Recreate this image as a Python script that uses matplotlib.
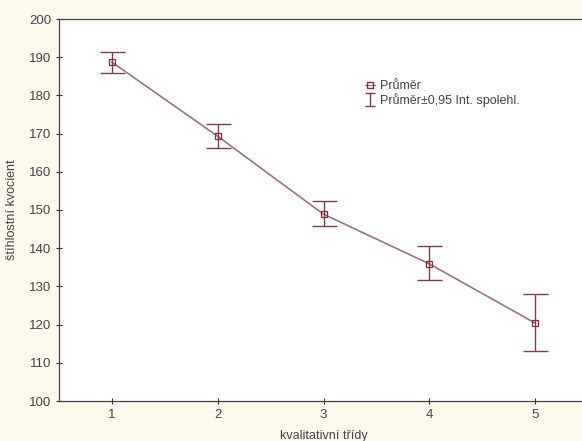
import matplotlib.pyplot as plt
import numpy as np

# values
trida = [1, 2, 3, 4, 5]
prumer = [188.7, 169.3, 148.9, 135.9, 120.4]
horni = [191.4, 172.6, 152.4, 140.6, 127.9]
dolni = [185.8, 166.3, 145.7, 131.6, 113.1]
y_ticks = [100, 110, 120, 130, 140, 150, 160, 170, 180, 190, 200]

plt.rcParams['font.family'] = ['Liberation Sans', 'DejaVu Sans']
bg = '#fdf9ec'
line_c = '#9a7478'
err_c = '#7b3f45'
mark_c = '#8a2a35'

fig = plt.figure(figsize=(5.82, 4.41), dpi=100, facecolor=bg)
# axes runs past the right edge like the cropped reference
ax = fig.add_axes([59 / 582, 40 / 441, 529 / 582, 382 / 441])
ax.set_facecolor('white')

x = np.array(trida)
m = np.array(prumer)
yerr = [m - np.array(dolni), np.array(horni) - m]
ax.plot(x, m, color=line_c, lw=1.2, zorder=2)
ax.errorbar(x, m, yerr=yerr, fmt='none', ecolor=err_c, elinewidth=1.0,
            capsize=9, capthick=1.0, zorder=3)
ax.plot(x, m, 's', ms=4, mfc='none', mec=mark_c, mew=0.9, zorder=4)

ax.set_xlim(0.5, 5.5)
ax.set_ylim(100, 200)
ax.set_xticks(trida)
ax.set_yticks(y_ticks)
ax.tick_params(direction='inout', length=4, width=0.8, labelsize=9.5,
               colors='#333333', labelcolor='#444444')
for s in ax.spines.values():
    s.set_color('#444444')
    s.set_linewidth(0.9)

ax.set_xlabel('kvalitativní třídy', fontsize=9, color='#444444', labelpad=7)
ax.set_ylabel('štíhlostní kvocient', fontsize=9, color='#444444', labelpad=8)

# legend proxies (the error bar one gets smaller caps)
mk_h = plt.Line2D([], [], marker='s', ms=4, mfc='none', mec=mark_c,
                  color=line_c, lw=0.8)
eb_h = ax.errorbar([np.nan], [np.nan], yerr=[1], fmt='none', ecolor=err_c,
                   elinewidth=1.0, capsize=3.5, capthick=1.0)
ax.legend([mk_h, eb_h], ['Průměr', 'Průměr±0,95 Int. spolehl.'],
          loc='upper left', bbox_to_anchor=(0.557, 0.87), frameon=False,
          fontsize=9, handlelength=0.8, handletextpad=0.4,
          labelspacing=0.1, labelcolor='#444444')

fig.savefig('out.png', dpi=100, facecolor=bg)
